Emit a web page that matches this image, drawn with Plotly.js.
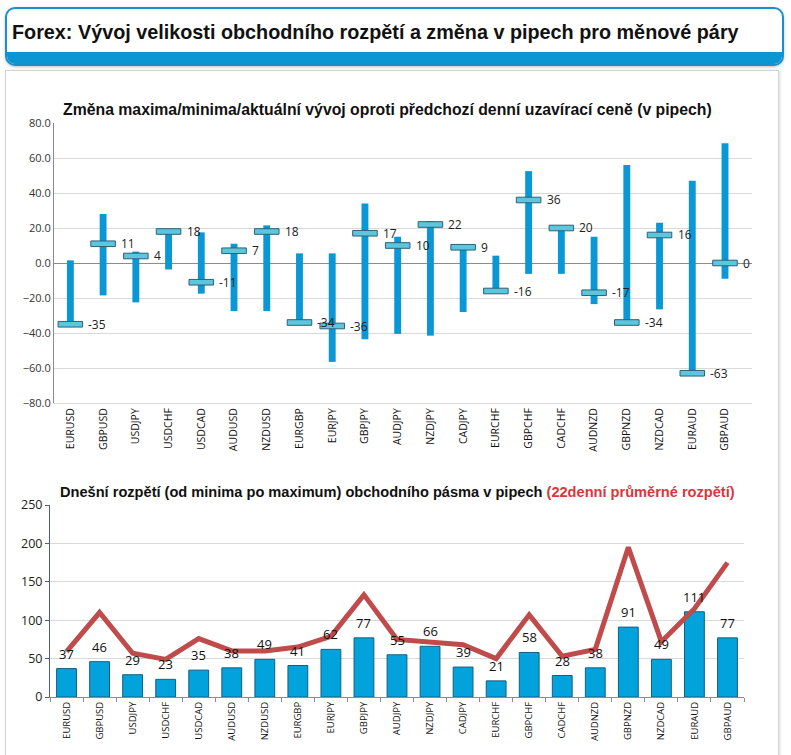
<!DOCTYPE html>
<html>
<head>
<meta charset="utf-8">
<script src="https://cdn.plot.ly/plotly-3.0.1.min.js"></script>
<style>
  html, body { margin:0; padding:0; background:#fff; }
  body { width:791px; height:755px; overflow:hidden; position:relative; }
  #header { position:absolute; left:5px; top:7px; width:775px; height:55px; border:2px solid #1a8fd0; border-radius:10px; overflow:hidden; background:#fff; box-shadow:0 1px 3px rgba(0,0,0,0.25); }
  #strip { position:absolute; left:0; right:0; bottom:0; height:12px; background:#0b95d3; }
  #htitle { position:absolute; left:5px; top:12px; font-family:"Liberation Sans", Arial, sans-serif; font-weight:bold; font-size:19.8px; color:#111; white-space:nowrap; }
  #panel { position:absolute; left:5px; top:70px; width:772px; height:700px; border:1px solid #d4d4d4; box-shadow:1px 1px 3px rgba(0,0,0,0.15); background:#fff; }
  #chart { position:absolute; left:0; top:0; width:791px; height:755px; }
</style>
</head>
<body>
<div id="header"><div id="htitle">Forex: Vývoj velikosti obchodního rozpětí a změna v pipech pro měnové páry</div><div id="strip"></div></div>
<div id="panel"></div>
<div id="chart"></div>
<script>
// ---- data ----
const pairs = ["EURUSD","GBPUSD","USDJPY","USDCHF","USDCAD","AUDUSD","NZDUSD","EURGBP","EURJPY","GBPJPY","AUDJPY","NZDJPY","CADJPY","EURCHF","GBPCHF","CADCHF","AUDNZD","GBPNZD","NZDCAD","EURAUD","GBPAUD"];
const highs   = [1.5, 28, 6.5, 19.5, 17.5, 11, 21.5, 5.5, 5.5, 34, 15, 24, 9.5, 4.2, 52.5, 20.5, 15, 56, 23, 47, 68.5];
const lows    = [-35, -18.5, -22.5, -3.7, -17.5, -27.5, -27.5, -34, -56.5, -43.5, -40.5, -41.5, -28, -16, -6.2, -6.2, -23.5, -34, -26.5, -63, -9];
const current = [-35, 11, 4, 18, -11, 7, 18, -34, -36, 17, 10, 22, 9, -16, 36, 20, -17, -34, 16, -63, 0];
const ranges  = [37, 46, 29, 23, 35, 38, 49, 41, 62, 77, 55, 66, 39, 21, 58, 28, 38, 91, 49, 111, 77];
const avg22   = [59, 110, 57, 49, 76, 60, 60, 65, 79, 133, 75, 71, 68, 50, 107, 53, 62, 195, 72, 115, 175];
const yTicksTop = [-80, -60, -40, -20, 0, 20, 40, 60, 80];
const yTicksBottom = [0, 50, 100, 150, 200, 250];

const W = 791, H = 755;
const px = v => v / W;
const py = v => 1 - v / H;
const tickFont = "Open Sans, DejaVu Sans, sans-serif";

const traces = [
  { type:"bar", x:pairs, base:lows, y:highs.map((h,i)=>h-lows[i]), width:0.21,
    marker:{color:"#0997d5", line:{width:0}}, xaxis:"x", yaxis:"y", hoverinfo:"skip", showlegend:false },
  { type:"bar", x:pairs, base:current.map(c=>c-1.6), y:current.map(()=>3.2), width:0.75,
    marker:{color:"#5cc6de", line:{color:"#2f6170", width:1}}, xaxis:"x", yaxis:"y", hoverinfo:"skip", showlegend:false },
  { type:"bar", x:pairs, y:ranges, width:0.6,
    marker:{color:"#02a3dc", line:{color:"#135f80", width:1}}, xaxis:"x2", yaxis:"y2", hoverinfo:"skip", showlegend:false },
  { type:"scatter", mode:"lines", x:pairs, y:avg22, line:{color:"#bf4b4a", width:5},
    xaxis:"x2", yaxis:"y2", hoverinfo:"skip", showlegend:false }
];

const annotations = current.map((c,i)=>({
  x:pairs[i], y:c, xref:"x", yref:"y", text:String(c), showarrow:false,
  xanchor:"left", yanchor:"middle", xshift:16, font:{family:tickFont, size:12, color:"#222"}
}));
ranges.forEach((r,i)=>annotations.push({
  x:pairs[i], y:r, xref:"x2", yref:"y2", text:String(r), showarrow:false,
  xanchor:"center", yanchor:"bottom", yshift:4, font:{family:tickFont, size:13, color:"#111"}
}));
annotations.push({
  xref:"paper", yref:"paper", x:px(387), y:py(110), xanchor:"center", yanchor:"middle", showarrow:false,
  text:"<b>Změna maxima/minima/aktuální vývoj oproti předchozí denní uzavírací ceně (v pipech)</b>",
  font:{family:"Liberation Sans, Arial, sans-serif", size:15.8, color:"#111"}
});
annotations.push({
  xref:"paper", yref:"paper", x:px(397), y:py(492), xanchor:"center", yanchor:"middle", showarrow:false,
  text:"<b>Dnešní rozpětí (od minima po maximum) obchodního pásma v pipech <span style='color:#d8373b'>(22denní průměrné rozpětí)</span></b>",
  font:{family:"Liberation Sans, Arial, sans-serif", size:14.6, color:"#111"}
});

const layout = {
  width:W, height:H, margin:{l:0,r:0,t:0,b:0},
  paper_bgcolor:"rgba(0,0,0,0)", plot_bgcolor:"rgba(0,0,0,0)",
  barmode:"overlay", bargap:0.3,
  xaxis:{ domain:[px(54), px(752)], anchor:"y", type:"category", tickangle:-90,
    tickfont:{family:tickFont, size:10.5, color:"#111"}, showgrid:false, ticks:"",
    showline:true, linecolor:"#d9d9d9", linewidth:1, fixedrange:true },
  yaxis:{ domain:[py(403), py(123)], anchor:"x", range:[-80,80], tickvals:yTicksTop,
    tickformat:".1f", tickfont:{family:tickFont, size:11, color:"#333"},
    gridcolor:"#d9d9d9", showline:true, linecolor:"#8c8c8c", linewidth:1,
    zeroline:true, zerolinecolor:"#8c8c8c", zerolinewidth:1, ticks:"", fixedrange:true },
  xaxis2:{ domain:[px(50), px(744)], anchor:"y2", type:"category", tickangle:-90,
    tickfont:{family:tickFont, size:9.5, color:"#111"}, showgrid:false,
    ticks:"outside", tickson:"boundaries", ticklen:4, tickcolor:"#8c8c8c",
    showline:true, linecolor:"#8c8c8c", linewidth:1, fixedrange:true },
  yaxis2:{ domain:[py(697), py(505)], anchor:"x2", range:[0,250], tickvals:yTicksBottom,
    tickfont:{family:tickFont, size:12.5, color:"#222"}, gridcolor:"#d9d9d9",
    showline:true, linecolor:"#4d6080", linewidth:1, ticks:"outside", ticklen:4, tickcolor:"#4d6080",
    zeroline:false, fixedrange:true },
  annotations:annotations
};

Plotly.newPlot("chart", traces, layout, {staticPlot:true, displayModeBar:false});
</script>
</body>
</html>
